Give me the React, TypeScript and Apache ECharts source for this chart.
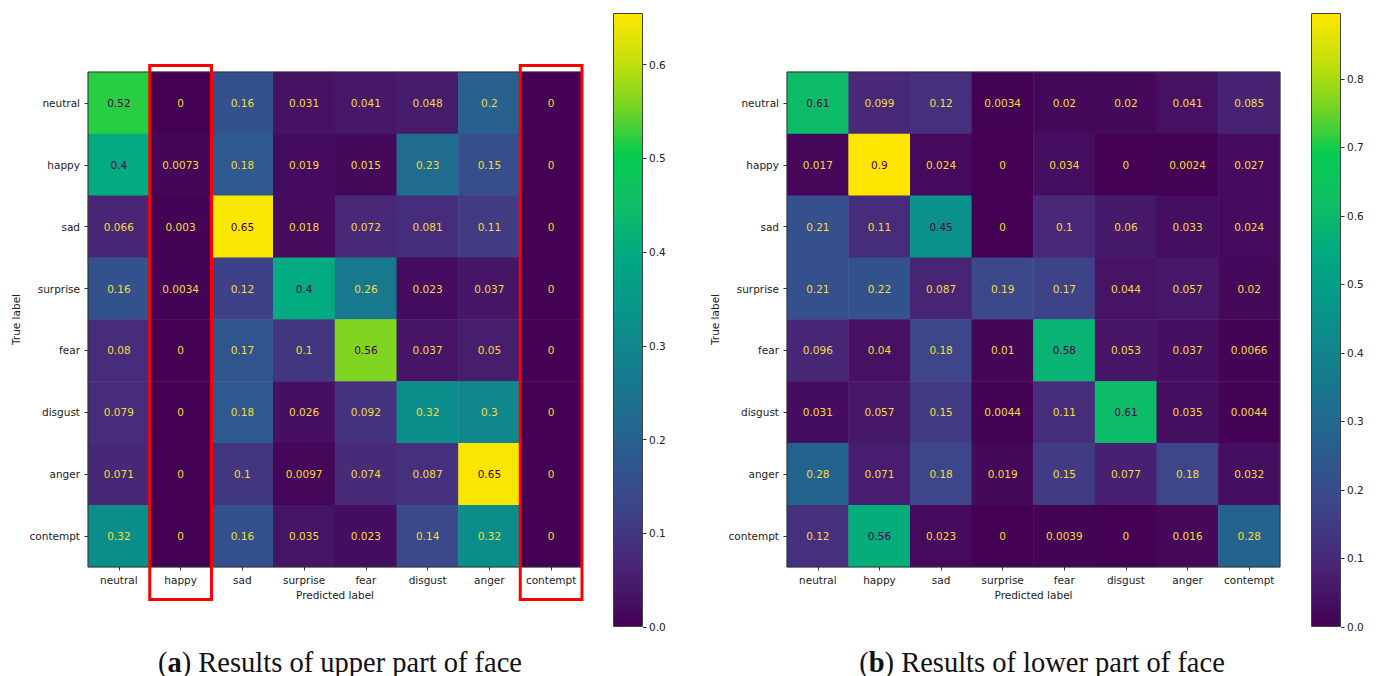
import React, { useEffect, useRef } from "react";
import * as echarts from "echarts";

const CATS = ["neutral", "happy", "sad", "surprise", "fear", "disgust", "anger", "contempt"];

const UPPER = [
  [0.52, 0, 0.16, 0.031, 0.041, 0.048, 0.2, 0],
  [0.4, 0.0073, 0.18, 0.019, 0.015, 0.23, 0.15, 0],
  [0.066, 0.003, 0.65, 0.018, 0.072, 0.081, 0.11, 0],
  [0.16, 0.0034, 0.12, 0.4, 0.26, 0.023, 0.037, 0],
  [0.08, 0, 0.17, 0.1, 0.56, 0.037, 0.05, 0],
  [0.079, 0, 0.18, 0.026, 0.092, 0.32, 0.3, 0],
  [0.071, 0, 0.1, 0.0097, 0.074, 0.087, 0.65, 0],
  [0.32, 0, 0.16, 0.035, 0.023, 0.14, 0.32, 0],
];

const LOWER = [
  [0.61, 0.099, 0.12, 0.0034, 0.02, 0.02, 0.041, 0.085],
  [0.017, 0.9, 0.024, 0, 0.034, 0, 0.0024, 0.027],
  [0.21, 0.11, 0.45, 0, 0.1, 0.06, 0.033, 0.024],
  [0.21, 0.22, 0.087, 0.19, 0.17, 0.044, 0.057, 0.02],
  [0.096, 0.04, 0.18, 0.01, 0.58, 0.053, 0.037, 0.0066],
  [0.031, 0.057, 0.15, 0.0044, 0.11, 0.61, 0.035, 0.0044],
  [0.28, 0.071, 0.18, 0.019, 0.15, 0.077, 0.18, 0.032],
  [0.12, 0.56, 0.023, 0, 0.0039, 0, 0.016, 0.28],
];

const UPPER_MAX = 0.655;
const LOWER_MAX = 0.896;
const UPPER_TICKS = [0, 0.1, 0.2, 0.3, 0.4, 0.5, 0.6];
const LOWER_TICKS = [0, 0.1, 0.2, 0.3, 0.4, 0.5, 0.6, 0.7, 0.8];
const HIGHLIGHT_COLS = ["happy", "contempt"];

const CAPTION_A = ["a", " Results of upper part of face"];
const CAPTION_B = ["b", " Results of lower part of face"];

// viridis-like colormap (slightly saturated as in the picture)
const CMAP_STOPS: [number, string][] = [
  [0.0, "#440154"],
  [0.1, "#482576"],
  [0.2, "#3d468b"],
  [0.3, "#27608f"],
  [0.4, "#17798e"],
  [0.5, "#0a918b"],
  [0.6, "#00a883"],
  [0.7, "#10c062"],
  [0.77, "#05cc50"],
  [0.85, "#7ad421"],
  [0.92, "#c4e00c"],
  [1.0, "#ffe600"],
];

const FONT = "DejaVu Sans";
const LIGHT_TXT = "#f5dc3a";
const DARK_TXT = "#440154";

function buildData(mat: number[][], max: number) {
  const out: any[] = [];
  mat.forEach((row, i) =>
    row.forEach((v, j) => {
      out.push({
        value: [j, i, v],
        label: { color: v >= max / 2 ? DARK_TXT : LIGHT_TXT },
      });
    })
  );
  return out;
}

function viridisColors(n: number) {
  const hex = (c: string) => [1, 3, 5].map((k) => parseInt(c.slice(k, k + 2), 16));
  const res: string[] = [];
  for (let s = 0; s < n; s++) {
    const t = s / (n - 1);
    let k = 0;
    while (k < CMAP_STOPS.length - 2 && CMAP_STOPS[k + 1][0] < t) k++;
    const [t0, c0] = CMAP_STOPS[k];
    const [t1, c1] = CMAP_STOPS[k + 1];
    const f = Math.min(1, Math.max(0, (t - t0) / (t1 - t0)));
    const a = hex(c0), b = hex(c1);
    const m = a.map((x, idx) => Math.round(x + (b[idx] - x) * f));
    res.push("rgb(" + m.join(",") + ")");
  }
  return res;
}

const MAT_GRIDS = [
  { left: 88, top: 72, width: 494, height: 495 },
  { left: 787, top: 72, width: 493, height: 495 },
];
const BAR_GRIDS = [
  { left: 613, top: 13, width: 30, height: 614 },
  { left: 1311, top: 13, width: 30, height: 614 },
];

export default function App() {
  const ref = useRef<HTMLDivElement>(null);

  useEffect(() => {
    if (!ref.current) return;
    const chart = echarts.init(ref.current, undefined, { renderer: "svg" });
    const colors = viridisColors(64);
    const grad = () =>
      new echarts.graphic.LinearGradient(
        0,
        1,
        0,
        0,
        CMAP_STOPS.map(([o, c]) => ({ offset: o, color: c }))
      );

    const grids: any[] = [];
    const xAxes: any[] = [];
    const yAxes: any[] = [];
    const series: any[] = [];
    const visualMaps: any[] = [];

    const mats = [
      { mat: UPPER, max: UPPER_MAX, ticks: UPPER_TICKS },
      { mat: LOWER, max: LOWER_MAX, ticks: LOWER_TICKS },
    ];

    mats.forEach((m, k) => {
      const gi = grids.length;
      grids.push({
        ...MAT_GRIDS[k],
        show: true,
        borderColor: "#333",
        borderWidth: 1,
        backgroundColor: "transparent",
        z: 10,
      });
      xAxes.push({
        type: "category",
        gridIndex: gi,
        data: CATS,
        position: "bottom",
        axisLine: { show: false },
        axisTick: { show: true, alignWithLabel: true, interval: 0, length: 3.5, lineStyle: { color: "#333" } },
        axisLabel: { interval: 0, color: "#222", fontFamily: FONT, fontSize: 10.5, margin: 7 },
        splitLine: { show: false },
        name: "Predicted label",
        nameLocation: "middle",
        nameGap: 21,
        nameTextStyle: { color: "#222", fontFamily: FONT, fontSize: 10.5 },
      });
      yAxes.push({
        type: "category",
        gridIndex: gi,
        data: CATS,
        inverse: true,
        axisLine: { show: false },
        axisTick: { show: true, alignWithLabel: true, interval: 0, length: 3.5, lineStyle: { color: "#333" } },
        axisLabel: { interval: 0, color: "#222", fontFamily: FONT, fontSize: 10.5, margin: 8 },
        splitLine: { show: false },
        name: "True label",
        nameLocation: "middle",
        nameGap: 67,
        nameRotate: 90,
        nameTextStyle: { color: "#222", fontFamily: FONT, fontSize: 10.5 },
      });
      const si = series.length;
      series.push({
        type: "heatmap",
        xAxisIndex: xAxes.length - 1,
        yAxisIndex: yAxes.length - 1,
        data: buildData(m.mat, m.max),
        label: {
          show: true,
          fontFamily: FONT,
          fontSize: 10.5,
          formatter: (p: any) => String(p.value[2]),
        },
        emphasis: { disabled: true },
      });
      visualMaps.push({
        type: "continuous",
        show: false,
        seriesIndex: si,
        dimension: 2,
        min: 0,
        max: m.max,
        inRange: { color: colors },
      });

      const bi = grids.length;
      grids.push({ ...BAR_GRIDS[k] });
      xAxes.push({
        type: "category",
        gridIndex: bi,
        data: [""],
        axisLine: { show: false },
        axisTick: { show: false },
        axisLabel: { show: false },
      });
      yAxes.push({
        type: "value",
        gridIndex: bi,
        position: "right",
        min: 0,
        max: m.max,
        axisLine: { show: false },
        splitLine: { show: false },
        axisTick: {
          show: true,
          length: 3.5,
          customValues: m.ticks,
          lineStyle: { color: "#333" },
        },
        axisLabel: {
          color: "#222",
          fontFamily: FONT,
          fontSize: 10.5,
          margin: 6,
          customValues: m.ticks,
          formatter: (v: number) => v.toFixed(1),
        },
      });
      series.push({
        type: "bar",
        xAxisIndex: xAxes.length - 1,
        yAxisIndex: yAxes.length - 1,
        data: [m.max],
        barWidth: "100%",
        itemStyle: { color: grad(), borderColor: "#444", borderWidth: 1 },
        emphasis: { disabled: true },
        silent: true,
      });
    });

    chart.setOption({
      animation: false,
      backgroundColor: "#fff",
      grid: grids,
      xAxis: xAxes,
      yAxis: yAxes,
      visualMap: visualMaps,
      series,
    });

    const g0 = MAT_GRIDS[0];
    const cellW = g0.width / CATS.length;
    const graphics: any[] = HIGHLIGHT_COLS.map((c) => {
      const cx = chart.convertToPixel({ xAxisIndex: 0 }, c) as number;
      return {
        type: "rect",
        shape: {
          x: cx - cellW / 2,
          y: g0.top - 6.5,
          width: cellW,
          height: g0.height + 39,
        },
        style: { fill: "none", stroke: "#ff0000", lineWidth: 3 },
        z: 100,
      };
    });
    const caps = [
      { cap: CAPTION_A, x: 340 },
      { cap: CAPTION_B, x: 1042 },
    ];
    const CAP_SIZE = 28.5;
    caps.forEach(({ cap, x }) => {
      graphics.push({
        type: "text",
        x,
        y: 662,
        style: {
          text: "{p|(}{b|" + cap[0] + "}{p|)" + cap[1] + "}",
          align: "center",
          verticalAlign: "middle",
          rich: {
            p: { fontFamily: "Liberation Serif", fontSize: CAP_SIZE, fill: "#111", color: "#111" },
            b: { fontFamily: "Liberation Serif", fontSize: CAP_SIZE, fontWeight: "bold", fill: "#111", color: "#111" },
          },
        },
        z: 100,
      });
    });
    chart.setOption({ graphic: graphics });

    return () => chart.dispose();
  }, []);

  return (
    <div
      ref={ref}
      style={{ position: "absolute", left: 0, top: 0, width: 1383, height: 676, background: "#fff" }}
    />
  );
}
